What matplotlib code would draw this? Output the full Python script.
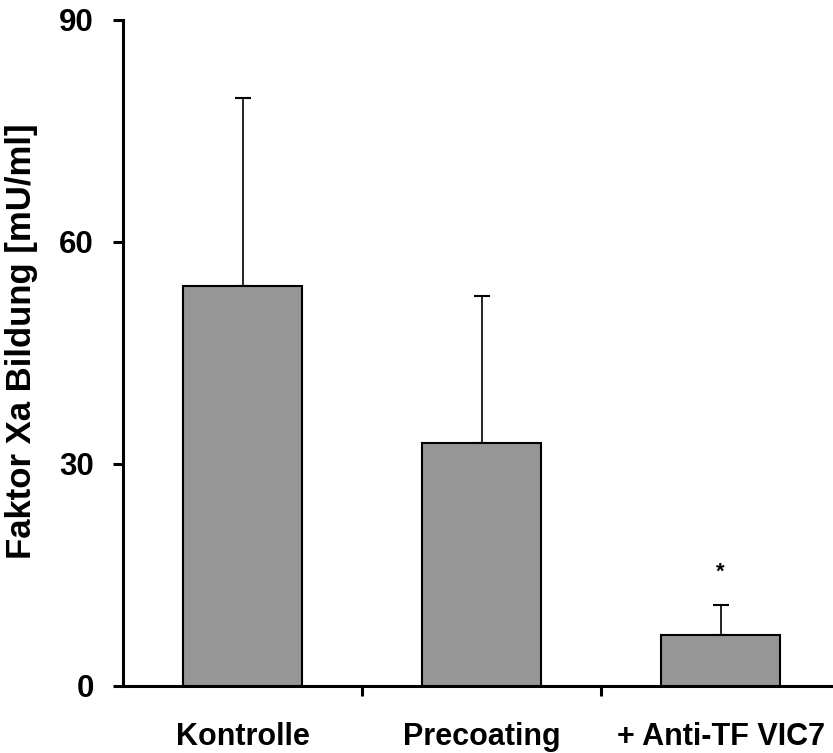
import numpy as np
import matplotlib
matplotlib.use("Agg")
import matplotlib.pyplot as plt

plt.rcParams['font.family'] = ['Liberation Sans', 'DejaVu Sans']
plt.rcParams['font.weight'] = 'bold'

categories = ['Kontrolle', 'Precoating', '+ Anti-TF VIC7']
means = [54.0, 32.8, 6.9]
errors = [25.4, 19.9, 4.0]
yticks = [0, 30, 60, 90]

fig = plt.figure(figsize=(8.33, 7.53), dpi=100)
ax = fig.add_axes([0.1477, 0.089, 0.861, 0.8845])

x = np.arange(len(categories))
ax.bar(x, means, width=0.5, color='#969696', edgecolor='black', linewidth=1.5, zorder=2)
ax.errorbar(x, means, yerr=[np.zeros(len(means)), errors], fmt='none',
            ecolor='black', elinewidth=1.2, capsize=6, capthick=1.5, zorder=1)
ax.text(x[2], means[2] + errors[2] + 4.5, '*', ha='center', va='center',
        fontsize=16, fontweight='bold')

ax.set_xlim(-0.5, 2.5)
ax.set_ylim(0, 90)
ax.set_yticks(yticks)
ax.set_xticks([0.5, 1.5])
ax.set_xticklabels([])
ax.set_xticks(x, minor=True)
ax.set_xticklabels(categories, minor=True)
ax.tick_params(axis='x', which='minor', length=0, pad=26, labelsize=22)
ax.tick_params(axis='x', which='major', direction='out', length=7, width=2.2)
ax.tick_params(axis='y', direction='out', length=7, width=2.2, pad=14, labelsize=22.5)

for s in ['top', 'right']:
    ax.spines[s].set_visible(False)
for s in ['left', 'bottom']:
    ax.spines[s].set_linewidth(2.2)

ax.set_ylabel('Faktor Xa Bildung [mU/ml]', fontsize=25, fontweight='bold')
ax.yaxis.set_label_coords(-0.118, 0.518)

fig.savefig('out.png', dpi=100)
